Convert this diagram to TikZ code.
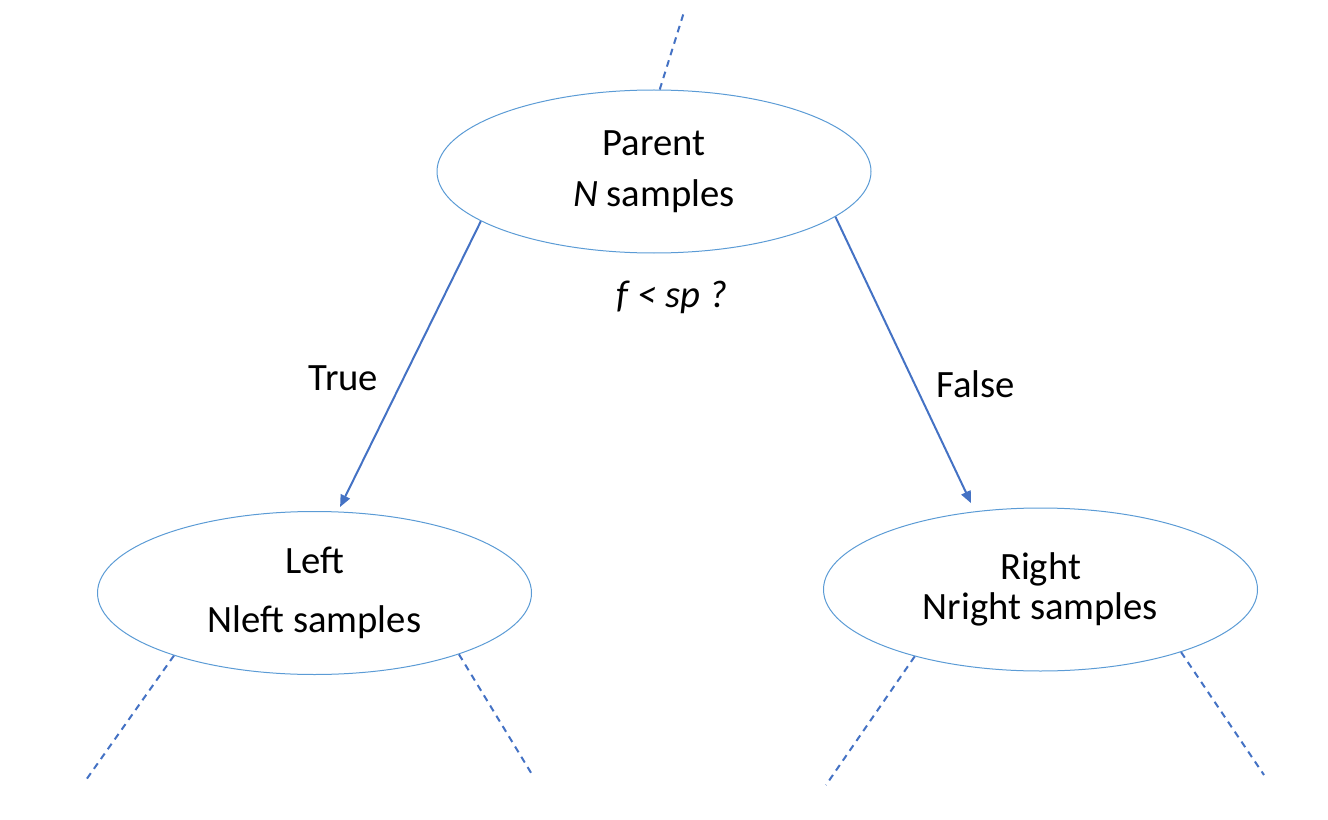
\documentclass[tikz,border=0pt]{standalone}
\usepackage{fontspec}
\setmainfont{Carlito}
\usepackage{tikz}
\usetikzlibrary{positioning, arrows.meta, shapes.geometric}

\definecolor{linkblue}{HTML}{4472C4}
\definecolor{rimblue}{HTML}{5B9BD5}

\begin{document}
\begin{tikzpicture}[
    x=0.75pt, y=-0.75pt,
    split/.style={ellipse, draw=rimblue, line width=0.75pt, minimum width=325.5pt, minimum height=122.25pt, align=center, font=\fontsize{29}{30}\selectfont},
    branch/.style={-{Triangle[length=9pt, width=7.5pt]}, draw=linkblue, line width=1.5pt},
    subtree/.style={draw=linkblue, line width=1.5pt, dash pattern=on 5pt off 4pt},
    tag/.style={font=\fontsize{29}{30}\selectfont}
  ]
    \useasboundingbox (0,0) rectangle (1328,820);

    % Nodes
    \node[split] (parent) at (654,171.5) {Parent\\[8pt]\textit{N} samples};
    \node[split] (left) at (314.5,593) {Left\\[14pt]Nleft samples};
    \node[split] (right) at (1040.5,589.5) {Right\\Nright samples};
    \node[tag, anchor=base] (cond) at (672,307) {\itshape f < sp ?};

    % Loose ends of the tree
    \coordinate (up) at (684,12);
    \coordinate (leftA) at (86,780);
    \coordinate (leftB) at (533,776);
    \coordinate (rightA) at (826,785);
    \coordinate (rightB) at (1264,775);

    % Arrows
    \draw[branch, shorten >=3.75pt] (parent.-164.4) -- node[tag, pos=0.54, left=15pt] (yes) {True} (left.74);
    \draw[branch, shorten >=6.75pt] (parent.-14) -- node[tag, pos=0.57, right=12pt] (no) {False} (right.130);

    % Dashed subtrees
    \draw[subtree] (parent.86) -- (up);
    \draw[subtree] (left.-156.6) -- (leftA);
    \draw[subtree] (left.-23.5) -- (leftB);
    \draw[subtree] (right.-152.5) -- (rightA);
    \draw[subtree] (right.-24.8) -- (rightB);
\end{tikzpicture}
\end{document}
